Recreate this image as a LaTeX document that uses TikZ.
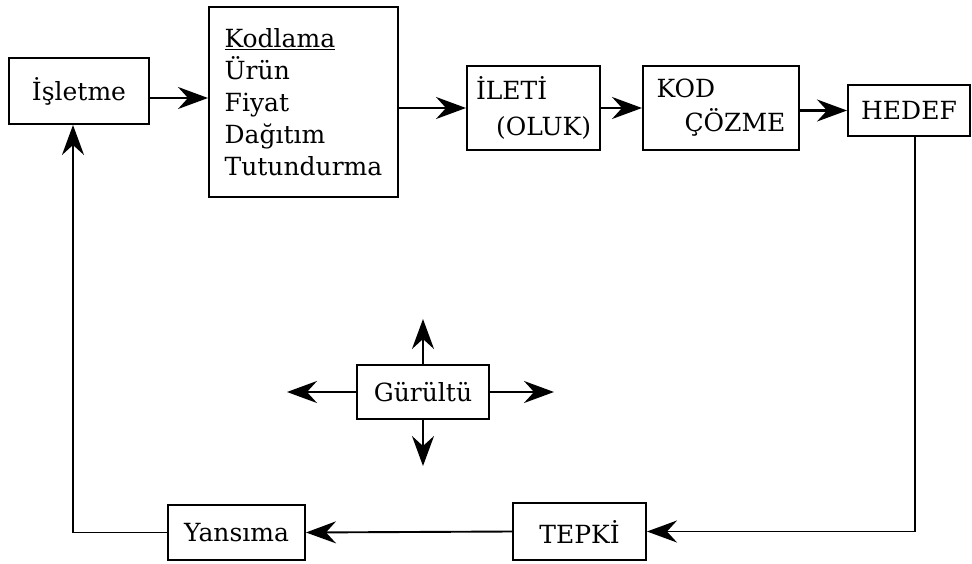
\documentclass[tikz,border=0pt]{standalone}
\usepackage{fontspec}
\setmainfont{DejaVu Serif}
\usetikzlibrary{positioning,arrows.meta}
\tikzstyle{block} = [draw, rectangle, line width=2pt, inner sep=0pt, font=\fontsize{25}{32}\selectfont]
\tikzstyle{line} = [draw, line width=2.4pt, -{Stealth[length=30pt, width=22pt, inset=10pt]}]
\tikzstyle{feedback} = [draw, line width=1.9pt, -{Stealth[length=30pt, width=22pt, inset=10pt]}]

\begin{document}
\begin{tikzpicture}[x=1pt, y=-1pt]
    \useasboundingbox (0,0) rectangle (972,564);

    % Place nodes
    \node [block, minimum width=140pt, minimum height=66pt] (isletme) at (79,91) {İşletme};
    \node [block, minimum width=189pt, minimum height=190pt, align=left] (kodlama) at (303.5,102) {\underline{Kodlama}\\Ürün\\Fiyat\\Dağıtım\\Tutundurma};
    \node [block, minimum width=133pt, minimum height=84pt, align=left, font=\fontsize{25}{36}\selectfont] (ileti) at (533.5,108) {İLETİ\\\hspace*{20pt}(OLUK)};
    \node [block, minimum width=156pt, minimum height=84pt, align=left, font=\fontsize{25}{34}\selectfont] (kod) at (721,108) {KOD\\\hspace*{28pt}ÇÖZME};
    \node [block, minimum width=122pt, minimum height=51pt] (hedef) at (909,110.5) {HEDEF};
    \node [block, minimum width=132pt, minimum height=54pt] (gurultu) at (423,392) {Gürültü};
    \node [block, minimum width=133pt, minimum height=57pt] (tepki) at (579.5,531.5) {TEPKİ};
    \node [block, minimum width=137pt, minimum height=55pt] (yansima) at (236.5,532.5) {Yansıma};

    % Free ends of the noise arrows
    \coordinate [above=45pt of gurultu] (noise-up);
    \coordinate [below=46pt of gurultu] (noise-down);
    \coordinate [left=69pt of gurultu] (noise-left);
    \coordinate [right=64pt of gurultu] (noise-right);

    % Draw edges
    \path [line] ([yshift=-7pt]isletme.east) -- ([yshift=-7pt]isletme.east -| kodlama.west);
    \path [line] (kodlama.east |- ileti.west) -- (ileti.west);
    \path [line] (ileti.east) -- (kod.west);
    \path [line] (kod.east |- hedef.west) -- (hedef.west);
    \path [feedback] ([xshift=6pt]hedef.south) |- (tepki.east);
    \path [feedback] (tepki.west) -- (yansima.east);
    \path [feedback] (yansima.west) -| ([xshift=-6pt]isletme.south);
    \foreach \dir/\side in {up/north, down/south, left/west, right/east}
        \path [feedback] (gurultu.\side) -- (noise-\dir);
\end{tikzpicture}
\end{document}
